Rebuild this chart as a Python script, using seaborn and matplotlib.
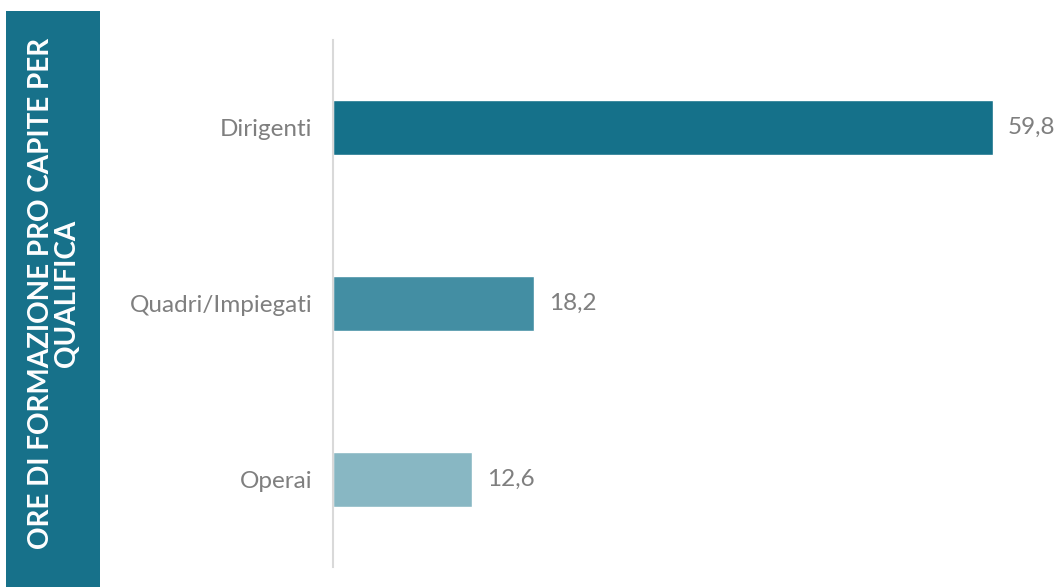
import matplotlib
matplotlib.use("Agg")
import matplotlib.pyplot as plt
import seaborn as sns
import pandas as pd
from matplotlib.patches import Rectangle

categories = ["Dirigenti", "Quadri/Impiegati", "Operai"]
values = [59.8, 18.2, 12.6]
value_labels = ["59,8", "18,2", "12,6"]
bar_colors = ["#15718A", "#438EA3", "#88B7C3"]
title = "ORE DI FORMAZIONE PRO CAPITE PER\nQUALIFICA"

sns.set_theme(style="white")
plt.rcParams["font.family"] = ["Lato", "DejaVu Sans"]

df = pd.DataFrame({"categoria": categories, "ore": values})

fig = plt.figure(figsize=(10.58, 5.87), dpi=100)
fig.patch.set_facecolor("white")

# side band with the vertical title
fig.patches.append(Rectangle((6 / 1058, 0), 94 / 1058, (587 - 11) / 587,
                             transform=fig.transFigure, facecolor="#17718A",
                             edgecolor="none", zorder=0))
fig.text(54 / 1058, 0.5, title, rotation=90, ha="center", va="center",
         color="white", fontsize=20.1, linespacing=1.0, multialignment="center",
         fontweight="bold")

ax = fig.add_axes([333 / 1058, 20 / 587, 717 / 1058, 527 / 587])
sns.barplot(data=df, x="ore", y="categoria", hue="categoria",
            palette=bar_colors, orient="h", width=0.314, legend=False,
            ax=ax, saturation=1)

ax.set_xlim(0, 65)
ax.set_ylim(2.5, -0.5)
ax.set_xlabel("")
ax.set_ylabel("")
ax.set_xticks([])
for side in ["top", "right", "bottom"]:
    ax.spines[side].set_visible(False)
ax.spines["left"].set_color("#D9D9D9")
ax.spines["left"].set_linewidth(1.5)
ax.tick_params(axis="y", length=0, pad=15, labelsize=17.5, labelcolor="#7F7F7F")

for container, lab in zip(ax.containers, value_labels):
    ax.bar_label(container, labels=[lab], padding=11, fontsize=17.5,
                 color="#7F7F7F")

fig.savefig("out.png", dpi=100)
